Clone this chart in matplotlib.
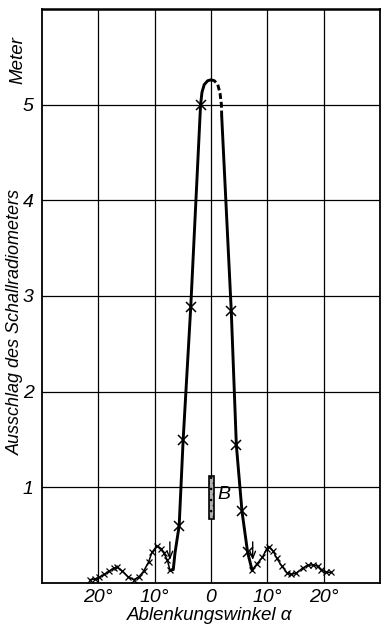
import matplotlib
matplotlib.use("Agg")
import matplotlib.pyplot as plt

# ---- data ----
left_lobe_x = [-21.45, -20.68, -19.81, -18.93, -18.06, -17.18, -16.61, -15.73, -14.69, -13.69,
               -12.81, -11.94, -11.07, -10.49, -9.62, -8.86, -8.34, -7.74, -7.29]
left_lobe_y = [0.035, 0.04, 0.06, 0.09, 0.125, 0.157, 0.167, 0.125, 0.063, 0.035,
               0.063, 0.125, 0.22, 0.32, 0.385, 0.36, 0.31, 0.237, 0.133]
right_lobe_x = [7.29, 8.16, 9.14, 9.91, 10.37, 11.07, 11.66, 12.53, 13.51, 14.28,
                15.16, 16.31, 17.19, 18.06, 18.94, 19.53, 20.4, 21.28]
right_lobe_y = [0.135, 0.20, 0.27, 0.36, 0.38, 0.33, 0.26, 0.18, 0.105, 0.09,
                0.105, 0.157, 0.185, 0.19, 0.175, 0.14, 0.115, 0.11]

main_left_x = [-7.29, -6.7, -6.4, -5.65, -4.95, -3.6, -1.85, -1.6, -1.2, -0.6, 0.0]
main_left_y = [0.133, 0.14, 0.31, 0.60, 1.49, 2.88, 5.0, 5.13, 5.21, 5.25, 5.26]
dome_right_x = [0.0, 0.6, 1.2, 1.6, 1.85, 1.9]
dome_right_y = [5.26, 5.25, 5.21, 5.12, 5.0, 4.88]
main_right_x = [1.9, 3.6, 4.5, 5.5, 6.5, 7.29]
main_right_y = [4.88, 2.84, 1.44, 0.75, 0.32, 0.135]

big_marker_x = [-5.65, -4.95, -3.6, -1.85, 3.6, 4.5, 5.5, 6.5]
big_marker_y = [0.60, 1.49, 2.88, 5.0, 2.84, 1.44, 0.75, 0.32]

bar_B_center = 0.1
bar_B_bottom = 0.67
bar_B_top = 1.12

arrow_x = [-7.3, 7.4]
arrow_from = 0.43
arrow_to = 0.24

xticks = [-20, -10, 0, 10, 20]
xticklabels = ["20°", "10°", "0", "10°", "20°"]
yticks = [1, 2, 3, 4, 5]
yticklabels = ["1", "2", "3", "4", "5"]

FONT = ["Liberation Sans Narrow", "Liberation Sans", "DejaVu Sans"]

plt.rcParams["hatch.linewidth"] = 1.0

fig = plt.figure(figsize=(3.81, 6.25), dpi=100)
ax = fig.add_axes([42/381, 1-583/625, 338/381, (583-9)/625])
ax.set_xlim(-30, 30)
ax.set_ylim(0, 6)

# grid
for gx in xticks:
    ax.axvline(gx, color="black", lw=0.9, zorder=1)
for gy in yticks:
    ax.axhline(gy, color="black", lw=0.9, zorder=1)

for s in ax.spines.values():
    s.set_linewidth(1.3)
ax.spines["top"].set_linewidth(1.8)

# curves
ax.plot(left_lobe_x, left_lobe_y, color="black", lw=1.1, marker="x", ms=4.5, mew=0.9, zorder=3)
ax.plot(right_lobe_x, right_lobe_y, color="black", lw=1.1, marker="x", ms=4.5, mew=0.9, zorder=3)
ax.plot(main_left_x, main_left_y, color="black", lw=2.1, solid_capstyle="round", zorder=3)
ax.plot(dome_right_x, dome_right_y, color="black", lw=2.1, ls=(0, (2, 1)), zorder=3)
ax.plot(main_right_x, main_right_y, color="black", lw=2.1, solid_capstyle="round", zorder=3)
ax.plot(big_marker_x, big_marker_y, ls="none", color="black", marker="x", ms=7, mew=1.1, zorder=4)

# bar B
ax.bar([bar_B_center], [bar_B_top - bar_B_bottom], bottom=bar_B_bottom, width=1.0,
       facecolor="#b0b0b0", edgecolor="black", hatch="...", lw=1.2, zorder=3)
ax.text(1.1, 0.92, "B", fontsize=14, style="italic", family=FONT, ha="left", va="center")

# arrows
for axx in arrow_x:
    ax.annotate("", xy=(axx, arrow_to), xytext=(axx, arrow_from),
                arrowprops=dict(arrowstyle="->,head_length=0.5,head_width=0.2", lw=1.0,
                                color="black", shrinkA=0, shrinkB=0), zorder=4)

ax.set_xticks(xticks)
ax.set_xticklabels(xticklabels, fontsize=14, style="italic", family=FONT)
ax.set_yticks(yticks)
ax.set_yticklabels(yticklabels, fontsize=14, style="italic", family=FONT)
ax.tick_params(length=0, pad=6)
ax.tick_params(axis="x", pad=4)

fig.text(210/381, 1-616/625, "Ablenkungswinkel α", fontsize=13.5, style="italic",
         family=FONT, ha="center", va="center")
fig.text(15/381, 1-322/625, "Ausschlag des Schallradiometers", fontsize=13, style="italic",
         family=FONT, ha="center", va="center", rotation=90)
fig.text(18/381, 1-60/625, "Meter", fontsize=13.5, style="italic",
         family=FONT, ha="center", va="center", rotation=90)

fig.savefig("out.png", dpi=100)
